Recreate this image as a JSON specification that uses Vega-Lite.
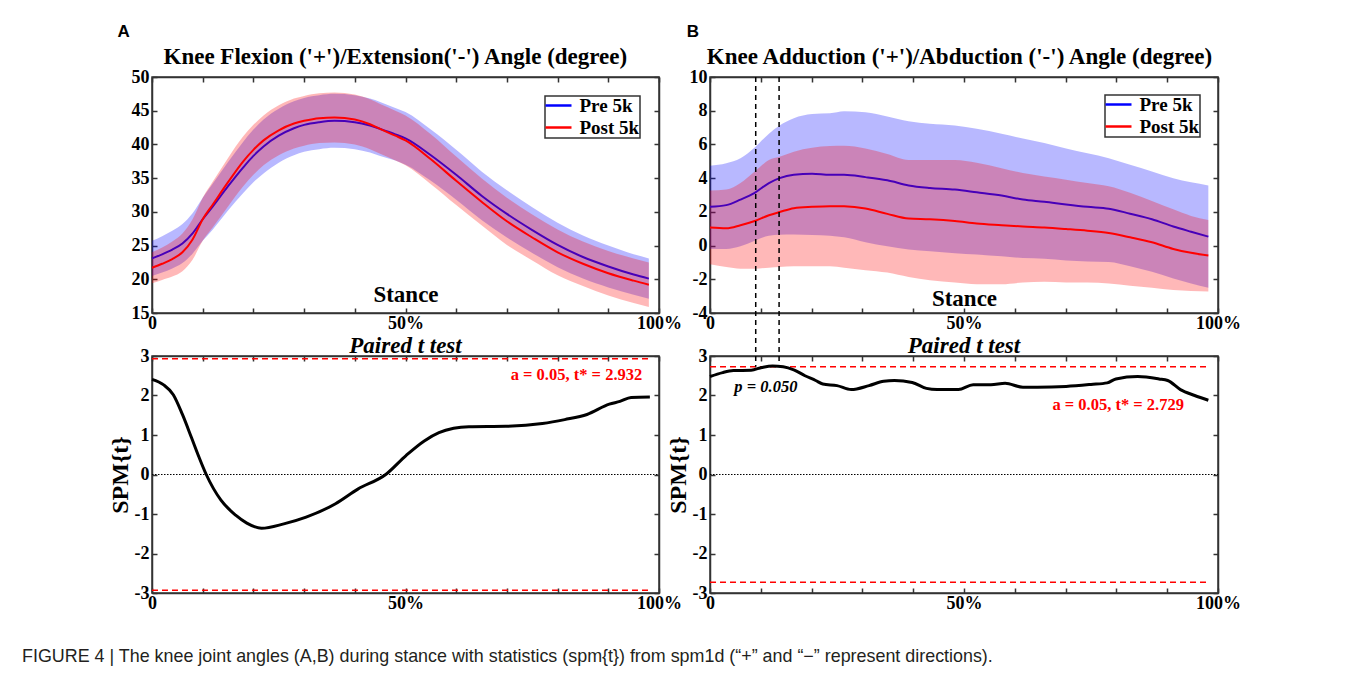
{
  "$schema": "https://vega.github.io/schema/vega-lite/v6.json",
  "background": "white",
  "padding": {"left": 22, "top": 22, "right": 5, "bottom": 5},
  "config": {
    "font": "Liberation Serif",
    "view": {"stroke": "#333333", "strokeWidth": 1.5},
    "axis": {
      "domainColor": "#333333", "domainWidth": 1.5,
      "tickColor": "#333333", "tickWidth": 1.5, "tickSize": -5,
      "labelPadding": 8, "labelFont": "Liberation Serif", "labelFontWeight": "bold",
      "labelFontSize": 18, "labelColor": "black",
      "titleFont": "Liberation Serif", "titleFontWeight": "bold", "titleColor": "black",
      "grid": false, "labelOverlap": false, "labelFlush": false, "minExtent": 0
    },
    "axisX": {"labelPadding": 6.5},
    "legend": {
      "labelFont": "Liberation Serif", "labelFontWeight": "bold", "labelFontSize": 19, "labelColor": "black",
      "strokeColor": "#333333", "strokeWidth": 1.5, "fillColor": "white",
      "padding": 0, "rowPadding": 2, "symbolStrokeWidth": 2.5,
      "symbolType": "M-2,0H2", "symbolSize": 169, "symbolOffset": 4, "labelOffset": 11.5
    }
  },
  "title": {
    "text": "FIGURE 4 | The knee joint angles (A,B) during stance with statistics (spm{t}) from spm1d (“+” and “−” represent directions).",
    "orient": "bottom", "anchor": "start", "frame": "group", "dx": -130, "offset": 35,
    "font": "Liberation Sans", "fontSize": 17.9, "fontWeight": "normal", "fontStyle": "normal",
    "color": "#231f20", "baseline": "top"
  },
  "columns": 2,
  "spacing": {"row": 43, "column": 51},
  "bounds": "flush",
  "resolve": {"scale": {"color": "independent"}, "legend": {"color": "independent"}},
  "datasets": {
    "angleA": [
      {"stance": 0, "group": "Pre 5k", "mean": 23.1, "lo": 20.5, "hi": 25.7},
      {"stance": 2, "group": "Pre 5k", "mean": 23.7, "lo": 21.0, "hi": 26.4},
      {"stance": 4, "group": "Pre 5k", "mean": 24.4, "lo": 21.6, "hi": 27.2},
      {"stance": 6, "group": "Pre 5k", "mean": 25.3, "lo": 22.4, "hi": 28.2},
      {"stance": 8, "group": "Pre 5k", "mean": 26.8, "lo": 23.8, "hi": 29.8},
      {"stance": 10, "group": "Pre 5k", "mean": 28.9, "lo": 25.7, "hi": 32.1},
      {"stance": 12, "group": "Pre 5k", "mean": 30.8, "lo": 27.4, "hi": 34.2},
      {"stance": 15, "group": "Pre 5k", "mean": 33.8, "lo": 30.2, "hi": 37.4},
      {"stance": 18, "group": "Pre 5k", "mean": 36.6, "lo": 32.8, "hi": 40.4},
      {"stance": 20, "group": "Pre 5k", "mean": 38.3, "lo": 34.4, "hi": 42.2},
      {"stance": 22, "group": "Pre 5k", "mean": 39.7, "lo": 35.7, "hi": 43.7},
      {"stance": 25, "group": "Pre 5k", "mean": 41.3, "lo": 37.3, "hi": 45.3},
      {"stance": 28, "group": "Pre 5k", "mean": 42.4, "lo": 38.4, "hi": 46.4},
      {"stance": 30, "group": "Pre 5k", "mean": 42.9, "lo": 38.9, "hi": 46.9},
      {"stance": 33, "group": "Pre 5k", "mean": 43.3, "lo": 39.3, "hi": 47.3},
      {"stance": 36, "group": "Pre 5k", "mean": 43.5, "lo": 39.5, "hi": 47.5},
      {"stance": 40, "group": "Pre 5k", "mean": 43.3, "lo": 39.3, "hi": 47.3},
      {"stance": 43, "group": "Pre 5k", "mean": 42.8, "lo": 38.8, "hi": 46.8},
      {"stance": 45, "group": "Pre 5k", "mean": 42.3, "lo": 38.3, "hi": 46.3},
      {"stance": 48, "group": "Pre 5k", "mean": 41.5, "lo": 37.6, "hi": 45.4},
      {"stance": 50, "group": "Pre 5k", "mean": 40.9, "lo": 37.0, "hi": 44.8},
      {"stance": 55, "group": "Pre 5k", "mean": 38.4, "lo": 34.6, "hi": 42.2},
      {"stance": 60, "group": "Pre 5k", "mean": 35.5, "lo": 31.8, "hi": 39.2},
      {"stance": 65, "group": "Pre 5k", "mean": 32.4, "lo": 28.8, "hi": 36.0},
      {"stance": 70, "group": "Pre 5k", "mean": 29.7, "lo": 26.2, "hi": 33.2},
      {"stance": 75, "group": "Pre 5k", "mean": 27.3, "lo": 23.9, "hi": 30.7},
      {"stance": 80, "group": "Pre 5k", "mean": 25.1, "lo": 21.8, "hi": 28.4},
      {"stance": 85, "group": "Pre 5k", "mean": 23.3, "lo": 20.1, "hi": 26.5},
      {"stance": 90, "group": "Pre 5k", "mean": 21.9, "lo": 18.8, "hi": 25.0},
      {"stance": 95, "group": "Pre 5k", "mean": 20.7, "lo": 17.7, "hi": 23.7},
      {"stance": 98, "group": "Pre 5k", "mean": 20.1, "lo": 17.1, "hi": 23.1},
      {"stance": 0, "group": "Post 5k", "mean": 21.7, "lo": 19.4, "hi": 24.0},
      {"stance": 2, "group": "Post 5k", "mean": 22.3, "lo": 19.9, "hi": 24.7},
      {"stance": 4, "group": "Post 5k", "mean": 23.0, "lo": 20.4, "hi": 25.6},
      {"stance": 6, "group": "Post 5k", "mean": 24.0, "lo": 21.2, "hi": 26.8},
      {"stance": 8, "group": "Post 5k", "mean": 25.9, "lo": 22.9, "hi": 28.9},
      {"stance": 10, "group": "Post 5k", "mean": 28.9, "lo": 25.7, "hi": 32.1},
      {"stance": 12, "group": "Post 5k", "mean": 31.1, "lo": 27.7, "hi": 34.5},
      {"stance": 15, "group": "Post 5k", "mean": 34.4, "lo": 30.8, "hi": 38.0},
      {"stance": 18, "group": "Post 5k", "mean": 37.5, "lo": 33.8, "hi": 41.2},
      {"stance": 20, "group": "Post 5k", "mean": 39.2, "lo": 35.5, "hi": 42.9},
      {"stance": 22, "group": "Post 5k", "mean": 40.6, "lo": 36.9, "hi": 44.3},
      {"stance": 25, "group": "Post 5k", "mean": 42.1, "lo": 38.4, "hi": 45.8},
      {"stance": 28, "group": "Post 5k", "mean": 43.1, "lo": 39.4, "hi": 46.8},
      {"stance": 30, "group": "Post 5k", "mean": 43.5, "lo": 39.8, "hi": 47.2},
      {"stance": 33, "group": "Post 5k", "mean": 43.9, "lo": 40.2, "hi": 47.6},
      {"stance": 36, "group": "Post 5k", "mean": 44.0, "lo": 40.3, "hi": 47.7},
      {"stance": 40, "group": "Post 5k", "mean": 43.7, "lo": 40.0, "hi": 47.4},
      {"stance": 43, "group": "Post 5k", "mean": 43.0, "lo": 39.3, "hi": 46.7},
      {"stance": 45, "group": "Post 5k", "mean": 42.3, "lo": 38.6, "hi": 46.0},
      {"stance": 48, "group": "Post 5k", "mean": 41.3, "lo": 37.6, "hi": 45.0},
      {"stance": 50, "group": "Post 5k", "mean": 40.6, "lo": 36.9, "hi": 44.3},
      {"stance": 55, "group": "Post 5k", "mean": 37.8, "lo": 34.1, "hi": 41.5},
      {"stance": 60, "group": "Post 5k", "mean": 34.6, "lo": 31.0, "hi": 38.2},
      {"stance": 65, "group": "Post 5k", "mean": 31.5, "lo": 28.0, "hi": 35.0},
      {"stance": 70, "group": "Post 5k", "mean": 28.6, "lo": 25.1, "hi": 32.1},
      {"stance": 75, "group": "Post 5k", "mean": 26.2, "lo": 22.8, "hi": 29.6},
      {"stance": 80, "group": "Post 5k", "mean": 24.0, "lo": 20.6, "hi": 27.4},
      {"stance": 85, "group": "Post 5k", "mean": 22.3, "lo": 19.0, "hi": 25.6},
      {"stance": 90, "group": "Post 5k", "mean": 20.9, "lo": 17.6, "hi": 24.2},
      {"stance": 95, "group": "Post 5k", "mean": 19.8, "lo": 16.5, "hi": 23.1},
      {"stance": 98, "group": "Post 5k", "mean": 19.2, "lo": 15.9, "hi": 22.5}
    ],
    "angleB": [
      {"stance": 0, "group": "Pre 5k", "mean": 2.30, "lo": -0.20, "hi": 4.73},
      {"stance": 3.2, "group": "Pre 5k", "mean": 2.40, "lo": -0.20, "hi": 4.88},
      {"stance": 6.0, "group": "Pre 5k", "mean": 2.73, "lo": -0.04, "hi": 5.18},
      {"stance": 8.8, "group": "Pre 5k", "mean": 3.13, "lo": 0.29, "hi": 5.82},
      {"stance": 11.6, "group": "Pre 5k", "mean": 3.71, "lo": 0.59, "hi": 6.64},
      {"stance": 13.7, "group": "Pre 5k", "mean": 4.00, "lo": 0.64, "hi": 7.13},
      {"stance": 16.5, "group": "Pre 5k", "mean": 4.20, "lo": 0.66, "hi": 7.56},
      {"stance": 20.1, "group": "Pre 5k", "mean": 4.26, "lo": 0.62, "hi": 7.81},
      {"stance": 23.6, "group": "Pre 5k", "mean": 4.20, "lo": 0.59, "hi": 7.85},
      {"stance": 26.4, "group": "Pre 5k", "mean": 4.20, "lo": 0.49, "hi": 7.97},
      {"stance": 30.6, "group": "Pre 5k", "mean": 4.06, "lo": 0.20, "hi": 7.91},
      {"stance": 34.9, "group": "Pre 5k", "mean": 3.87, "lo": -0.04, "hi": 7.66},
      {"stance": 39.1, "group": "Pre 5k", "mean": 3.57, "lo": -0.23, "hi": 7.38},
      {"stance": 43.3, "group": "Pre 5k", "mean": 3.42, "lo": -0.33, "hi": 7.23},
      {"stance": 48.2, "group": "Pre 5k", "mean": 3.32, "lo": -0.45, "hi": 7.13},
      {"stance": 52.5, "group": "Pre 5k", "mean": 3.16, "lo": -0.53, "hi": 6.93},
      {"stance": 57.4, "group": "Pre 5k", "mean": 2.97, "lo": -0.64, "hi": 6.64},
      {"stance": 61.6, "group": "Pre 5k", "mean": 2.73, "lo": -0.74, "hi": 6.35},
      {"stance": 65.8, "group": "Pre 5k", "mean": 2.60, "lo": -0.78, "hi": 6.09},
      {"stance": 70.1, "group": "Pre 5k", "mean": 2.44, "lo": -0.88, "hi": 5.76},
      {"stance": 74.3, "group": "Pre 5k", "mean": 2.30, "lo": -0.94, "hi": 5.47},
      {"stance": 78.5, "group": "Pre 5k", "mean": 2.19, "lo": -0.98, "hi": 5.18},
      {"stance": 82.7, "group": "Pre 5k", "mean": 1.89, "lo": -1.23, "hi": 4.79},
      {"stance": 87.0, "group": "Pre 5k", "mean": 1.56, "lo": -1.56, "hi": 4.39},
      {"stance": 91.2, "group": "Pre 5k", "mean": 1.13, "lo": -1.95, "hi": 4.00},
      {"stance": 94.7, "group": "Pre 5k", "mean": 0.82, "lo": -2.25, "hi": 3.75},
      {"stance": 98.1, "group": "Pre 5k", "mean": 0.53, "lo": -2.50, "hi": 3.57},
      {"stance": 0, "group": "Post 5k", "mean": 1.07, "lo": -1.11, "hi": 3.26},
      {"stance": 3.2, "group": "Post 5k", "mean": 1.03, "lo": -1.27, "hi": 3.32},
      {"stance": 6.0, "group": "Post 5k", "mean": 1.21, "lo": -1.37, "hi": 3.71},
      {"stance": 8.8, "group": "Post 5k", "mean": 1.46, "lo": -1.37, "hi": 4.39},
      {"stance": 11.6, "group": "Post 5k", "mean": 1.80, "lo": -1.31, "hi": 5.08},
      {"stance": 13.7, "group": "Post 5k", "mean": 1.99, "lo": -1.27, "hi": 5.27},
      {"stance": 16.5, "group": "Post 5k", "mean": 2.22, "lo": -1.23, "hi": 5.57},
      {"stance": 20.1, "group": "Post 5k", "mean": 2.30, "lo": -1.23, "hi": 5.80},
      {"stance": 23.6, "group": "Post 5k", "mean": 2.34, "lo": -1.23, "hi": 5.90},
      {"stance": 26.4, "group": "Post 5k", "mean": 2.33, "lo": -1.31, "hi": 5.92},
      {"stance": 30.6, "group": "Post 5k", "mean": 2.20, "lo": -1.46, "hi": 5.76},
      {"stance": 34.9, "group": "Post 5k", "mean": 1.88, "lo": -1.60, "hi": 5.43},
      {"stance": 39.1, "group": "Post 5k", "mean": 1.60, "lo": -1.86, "hi": 5.08},
      {"stance": 43.3, "group": "Post 5k", "mean": 1.56, "lo": -2.05, "hi": 5.08},
      {"stance": 48.2, "group": "Post 5k", "mean": 1.46, "lo": -2.19, "hi": 5.08},
      {"stance": 52.5, "group": "Post 5k", "mean": 1.31, "lo": -2.29, "hi": 4.92},
      {"stance": 57.4, "group": "Post 5k", "mean": 1.21, "lo": -2.29, "hi": 4.59},
      {"stance": 61.6, "group": "Post 5k", "mean": 1.13, "lo": -2.19, "hi": 4.30},
      {"stance": 65.8, "group": "Post 5k", "mean": 1.07, "lo": -2.15, "hi": 4.10},
      {"stance": 70.1, "group": "Post 5k", "mean": 0.98, "lo": -2.19, "hi": 3.91},
      {"stance": 74.3, "group": "Post 5k", "mean": 0.88, "lo": -2.19, "hi": 3.71},
      {"stance": 78.5, "group": "Post 5k", "mean": 0.74, "lo": -2.25, "hi": 3.52},
      {"stance": 82.7, "group": "Post 5k", "mean": 0.49, "lo": -2.38, "hi": 3.13},
      {"stance": 87.0, "group": "Post 5k", "mean": 0.20, "lo": -2.50, "hi": 2.64},
      {"stance": 91.2, "group": "Post 5k", "mean": -0.20, "lo": -2.64, "hi": 2.15},
      {"stance": 94.7, "group": "Post 5k", "mean": -0.43, "lo": -2.70, "hi": 1.76},
      {"stance": 98.1, "group": "Post 5k", "mean": -0.59, "lo": -2.73, "hi": 1.52}
    ],
    "spmA": [
      {"stance": 0, "t": 2.41}, {"stance": 2.3, "t": 2.27}, {"stance": 4.2, "t": 2.02},
      {"stance": 6.0, "t": 1.52}, {"stance": 7.8, "t": 0.93}, {"stance": 9.3, "t": 0.43},
      {"stance": 10.7, "t": 0.0}, {"stance": 13.6, "t": -0.65}, {"stance": 16.5, "t": -1.03},
      {"stance": 18.7, "t": -1.23}, {"stance": 21.6, "t": -1.36}, {"stance": 26.0, "t": -1.25},
      {"stance": 30.4, "t": -1.08}, {"stance": 36.2, "t": -0.74}, {"stance": 40.6, "t": -0.37},
      {"stance": 46.1, "t": 0.0}, {"stance": 50.1, "t": 0.48}, {"stance": 53.7, "t": 0.85},
      {"stance": 56.6, "t": 1.06}, {"stance": 59.5, "t": 1.17}, {"stance": 62.5, "t": 1.21},
      {"stance": 69.8, "t": 1.22}, {"stance": 77.0, "t": 1.29}, {"stance": 81.4, "t": 1.39},
      {"stance": 85.8, "t": 1.52}, {"stance": 90.2, "t": 1.78}, {"stance": 92.3, "t": 1.85},
      {"stance": 94.5, "t": 1.95}, {"stance": 98.2, "t": 1.96}
    ],
    "spmB": [
      {"stance": 0, "t": 2.48}, {"stance": 2.5, "t": 2.58}, {"stance": 4.6, "t": 2.63},
      {"stance": 8.1, "t": 2.64}, {"stance": 10.2, "t": 2.71}, {"stance": 12.3, "t": 2.75},
      {"stance": 14.4, "t": 2.73}, {"stance": 16.5, "t": 2.65}, {"stance": 18.7, "t": 2.50},
      {"stance": 20.8, "t": 2.38}, {"stance": 22.2, "t": 2.29}, {"stance": 25.0, "t": 2.25},
      {"stance": 27.8, "t": 2.15}, {"stance": 31.3, "t": 2.25}, {"stance": 34.2, "t": 2.36},
      {"stance": 36.3, "t": 2.38}, {"stance": 39.8, "t": 2.33}, {"stance": 42.6, "t": 2.18},
      {"stance": 44.7, "t": 2.15}, {"stance": 48.9, "t": 2.15}, {"stance": 51.8, "t": 2.27},
      {"stance": 55.3, "t": 2.27}, {"stance": 58.1, "t": 2.31}, {"stance": 61.6, "t": 2.21},
      {"stance": 64.4, "t": 2.21}, {"stance": 70.1, "t": 2.23}, {"stance": 75.0, "t": 2.28},
      {"stance": 78.2, "t": 2.32}, {"stance": 79.9, "t": 2.42}, {"stance": 84.2, "t": 2.48},
      {"stance": 88.4, "t": 2.42}, {"stance": 90.1, "t": 2.38}, {"stance": 92.6, "t": 2.15},
      {"stance": 95.4, "t": 2.00}, {"stance": 98.1, "t": 1.88}
    ],
    "thrA": [{"thr": 2.932}, {"thr": -2.932}],
    "thrB": [{"thr": 2.729}, {"thr": -2.729}],
    "sigB": [{"bound": 9.0}, {"bound": 13.6}]
  },
  "concat": [
    {
      "width": 507, "height": 236,
      "data": {"name": "angleA"},
      "resolve": {"axis": {"x": "independent", "y": "independent"}},
      "layer": [
        {
          "transform": [{"filter": "datum.group === 'Pre 5k'"}],
          "mark": {"type": "area", "color": "#0000ff", "opacity": 0.28, "interpolate": "monotone"},
          "encoding": {
            "x": {"field": "stance", "type": "quantitative", "scale": {"domain": [0, 100], "nice": false, "zero": false},
                  "axis": {"orient": "bottom", "values": [0,10,20,30,40,50,60,70,80,90,100],
                           "labelExpr": "datum.value == 0 ? '0' : (datum.value == 50 || datum.value == 100 ? datum.value + '%' : '')",
                           "title": "Stance", "titleY": -12, "titleBaseline": "alphabetic", "titleFontSize": 23}},
            "y": {"field": "lo", "type": "quantitative", "scale": {"domain": [15, 50], "nice": false, "zero": false},
                  "axis": {"orient": "left", "values": [15,20,25,30,35,40,45,50], "title": null}},
            "y2": {"field": "hi"}
          }
        },
        {
          "transform": [{"filter": "datum.group === 'Pre 5k'"}],
          "mark": {"type": "line", "strokeWidth": 2, "interpolate": "monotone"},
          "encoding": {
            "x": {"field": "stance", "type": "quantitative", "axis": {"orient": "top", "values": [0,10,20,30,40,50,60,70,80,90,100], "labels": false, "title": null}},
            "y": {"field": "mean", "type": "quantitative", "axis": {"orient": "right", "values": [15,20,25,30,35,40,45,50], "labels": false, "title": null}},
            "color": {"field": "group", "type": "nominal", "scale": {"domain": ["Pre 5k", "Post 5k"], "range": ["#0000ff", "#ff0000"]},
                      "legend": {"title": null, "orient": "top-right", "offset": 19}}
          }
        },
        {
          "transform": [{"filter": "datum.group === 'Post 5k'"}],
          "mark": {"type": "area", "color": "#ff0000", "opacity": 0.28, "interpolate": "monotone"},
          "encoding": {
            "x": {"field": "stance", "type": "quantitative", "axis": null},
            "y": {"field": "lo", "type": "quantitative", "axis": null},
            "y2": {"field": "hi"}
          }
        },
        {
          "transform": [{"filter": "datum.group === 'Post 5k'"}],
          "mark": {"type": "line", "strokeWidth": 2, "interpolate": "monotone"},
          "encoding": {
            "x": {"field": "stance", "type": "quantitative", "axis": null},
            "y": {"field": "mean", "type": "quantitative", "axis": null},
            "color": {"field": "group", "type": "nominal"}
          }
        },
        {
          "data": {"values": [{"label": "Knee Flexion ('+')/Extension('-') Angle (degree)"}]},
          "mark": {"type": "text", "fontSize": 23, "fontWeight": "bold", "font": "Liberation Serif", "align": "center", "baseline": "alphabetic", "color": "black"},
          "encoding": {
            "x": {"datum": 48, "type": "quantitative", "axis": null},
            "y": {"datum": 51.93, "type": "quantitative", "axis": null},
            "text": {"field": "label"}
          }
        },
        {
          "data": {"values": [{"panel": "A"}]},
          "mark": {"type": "text", "fontSize": 17, "fontWeight": "bold", "font": "Liberation Sans", "align": "center", "baseline": "middle", "color": "black"},
          "encoding": {
            "x": {"datum": -5.6, "type": "quantitative", "axis": null},
            "y": {"datum": 56.67, "type": "quantitative", "axis": null},
            "text": {"field": "panel"}
          }
        }
      ]
    },
    {
      "width": 508, "height": 236,
      "data": {"name": "angleB"},
      "resolve": {"axis": {"x": "independent", "y": "independent"}},
      "layer": [
        {
          "transform": [{"filter": "datum.group === 'Pre 5k'"}],
          "mark": {"type": "area", "color": "#0000ff", "opacity": 0.28, "interpolate": "monotone"},
          "encoding": {
            "x": {"field": "stance", "type": "quantitative", "scale": {"domain": [0, 100], "nice": false, "zero": false},
                  "axis": {"orient": "bottom", "values": [0,10,20,30,40,50,60,70,80,90,100],
                           "labelExpr": "datum.value == 0 ? '0' : (datum.value == 50 || datum.value == 100 ? datum.value + '%' : '')",
                           "title": "Stance", "titleY": -8, "titleBaseline": "alphabetic", "titleFontSize": 23}},
            "y": {"field": "lo", "type": "quantitative", "scale": {"domain": [-4, 10], "nice": false, "zero": false},
                  "axis": {"orient": "left", "values": [-4,-2,0,2,4,6,8,10], "labelExpr": "datum.value + ''", "title": null}},
            "y2": {"field": "hi"}
          }
        },
        {
          "transform": [{"filter": "datum.group === 'Pre 5k'"}],
          "mark": {"type": "line", "strokeWidth": 2, "interpolate": "monotone"},
          "encoding": {
            "x": {"field": "stance", "type": "quantitative", "axis": {"orient": "top", "values": [0,10,20,30,40,50,60,70,80,90,100], "labels": false, "title": null}},
            "y": {"field": "mean", "type": "quantitative", "axis": {"orient": "right", "values": [-4,-2,0,2,4,6,8,10], "labels": false, "title": null}},
            "color": {"field": "group", "type": "nominal", "scale": {"domain": ["Pre 5k", "Post 5k"], "range": ["#0000ff", "#ff0000"]},
                      "legend": {"title": null, "orient": "top-right", "offset": 18}}
          }
        },
        {
          "transform": [{"filter": "datum.group === 'Post 5k'"}],
          "mark": {"type": "area", "color": "#ff0000", "opacity": 0.28, "interpolate": "monotone"},
          "encoding": {
            "x": {"field": "stance", "type": "quantitative", "axis": null},
            "y": {"field": "lo", "type": "quantitative", "axis": null},
            "y2": {"field": "hi"}
          }
        },
        {
          "transform": [{"filter": "datum.group === 'Post 5k'"}],
          "mark": {"type": "line", "strokeWidth": 2, "interpolate": "monotone"},
          "encoding": {
            "x": {"field": "stance", "type": "quantitative", "axis": null},
            "y": {"field": "mean", "type": "quantitative", "axis": null},
            "color": {"field": "group", "type": "nominal"}
          }
        },
        {
          "data": {"name": "sigB"},
          "mark": {"type": "rule", "color": "black", "strokeWidth": 1.5, "strokeDash": [5, 4]},
          "encoding": {
            "x": {"field": "bound", "type": "quantitative", "axis": null},
            "y": {"datum": 10, "type": "quantitative", "axis": null},
            "y2": {"datum": -6.54}
          }
        },
        {
          "data": {"values": [{"label": "Knee Adduction ('+')/Abduction ('-') Angle (degree)"}]},
          "mark": {"type": "text", "fontSize": 23, "fontWeight": "bold", "font": "Liberation Serif", "align": "center", "baseline": "alphabetic", "color": "black"},
          "encoding": {
            "x": {"datum": 49.1, "type": "quantitative", "axis": null},
            "y": {"datum": 10.77, "type": "quantitative", "axis": null},
            "text": {"field": "label"}
          }
        },
        {
          "data": {"values": [{"panel": "B"}]},
          "mark": {"type": "text", "fontSize": 17, "fontWeight": "bold", "font": "Liberation Sans", "align": "center", "baseline": "middle", "color": "black"},
          "encoding": {
            "x": {"datum": -3.35, "type": "quantitative", "axis": null},
            "y": {"datum": 12.67, "type": "quantitative", "axis": null},
            "text": {"field": "panel"}
          }
        }
      ]
    },
    {
      "width": 507, "height": 237,
      "title": {"text": "Paired t test", "fontSize": 23, "fontWeight": "bold", "fontStyle": "italic", "font": "Liberation Serif", "offset": 4, "dy": 32.5, "baseline": "alphabetic", "color": "black"},
      "data": {"name": "spmA"},
      "resolve": {"axis": {"x": "independent", "y": "independent"}},
      "layer": [
        {
          "data": {"values": [{}]},
          "mark": {"type": "rule", "color": "black", "strokeWidth": 1.2, "strokeDash": [1.5, 1.5]},
          "encoding": {
            "x": {"datum": 0, "type": "quantitative", "scale": {"domain": [0, 100], "nice": false, "zero": false},
                  "axis": {"orient": "top", "values": [0,10,20,30,40,50,60,70,80,90,100], "labels": false, "title": null}},
            "x2": {"datum": 100},
            "y": {"datum": 0, "type": "quantitative", "scale": {"domain": [-3, 3], "nice": false, "zero": false},
                  "axis": {"orient": "right", "values": [-3,-2,-1,0,1,2,3], "labels": false, "title": null}}
          }
        },
        {
          "data": {"name": "thrA"},
          "mark": {"type": "rule", "color": "#ff0000", "strokeWidth": 1.5, "strokeDash": [6, 4]},
          "encoding": {
            "x": {"datum": 0, "type": "quantitative", "axis": null},
            "x2": {"datum": 98},
            "y": {"field": "thr", "type": "quantitative", "axis": null}
          }
        },
        {
          "mark": {"type": "line", "color": "black", "strokeWidth": 3, "interpolate": "monotone"},
          "encoding": {
            "x": {"field": "stance", "type": "quantitative",
                  "axis": {"orient": "bottom", "values": [0,10,20,30,40,50,60,70,80,90,100],
                           "labelExpr": "datum.value == 0 ? '0' : (datum.value == 50 || datum.value == 100 ? datum.value + '%' : '')",
                           "title": null}},
            "y": {"field": "t", "type": "quantitative",
                  "axis": {"orient": "left", "values": [-3,-2,-1,0,1,2,3], "labelExpr": "datum.value + ''",
                           "title": "SPM{t}", "titleFontSize": 24, "titlePadding": 2}}
          }
        },
        {
          "data": {"values": [{"label": "a = 0.05, t* = 2.932"}]},
          "mark": {"type": "text", "fontSize": 16.5, "fontWeight": "bold", "font": "Liberation Serif", "align": "right", "baseline": "middle", "color": "#ff0000"},
          "encoding": {
            "x": {"datum": 96.7, "type": "quantitative", "axis": null},
            "y": {"datum": 2.53, "type": "quantitative", "axis": null},
            "text": {"field": "label"}
          }
        }
      ]
    },
    {
      "width": 508, "height": 237,
      "title": {"text": "Paired t test", "fontSize": 23, "fontWeight": "bold", "fontStyle": "italic", "font": "Liberation Serif", "offset": 4, "dy": 32.5, "baseline": "alphabetic", "color": "black"},
      "data": {"name": "spmB"},
      "resolve": {"axis": {"x": "independent", "y": "independent"}},
      "layer": [
        {
          "data": {"values": [{}]},
          "mark": {"type": "rule", "color": "black", "strokeWidth": 1.2, "strokeDash": [1.5, 1.5]},
          "encoding": {
            "x": {"datum": 0, "type": "quantitative", "scale": {"domain": [0, 100], "nice": false, "zero": false},
                  "axis": {"orient": "top", "values": [0,10,20,30,40,50,60,70,80,90,100], "labels": false, "title": null}},
            "x2": {"datum": 100},
            "y": {"datum": 0, "type": "quantitative", "scale": {"domain": [-3, 3], "nice": false, "zero": false},
                  "axis": {"orient": "right", "values": [-3,-2,-1,0,1,2,3], "labels": false, "title": null}}
          }
        },
        {
          "data": {"name": "thrB"},
          "mark": {"type": "rule", "color": "#ff0000", "strokeWidth": 1.5, "strokeDash": [6, 4]},
          "encoding": {
            "x": {"datum": 0, "type": "quantitative", "axis": null},
            "x2": {"datum": 98},
            "y": {"field": "thr", "type": "quantitative", "axis": null}
          }
        },
        {
          "data": {"name": "sigB"},
          "mark": {"type": "rule", "color": "black", "strokeWidth": 1.5, "strokeDash": [5, 4]},
          "encoding": {
            "x": {"field": "bound", "type": "quantitative", "axis": null},
            "y": {"datum": 3, "type": "quantitative", "axis": null},
            "y2": {"datum": 2.73}
          }
        },
        {
          "mark": {"type": "line", "color": "black", "strokeWidth": 3, "interpolate": "monotone"},
          "encoding": {
            "x": {"field": "stance", "type": "quantitative",
                  "axis": {"orient": "bottom", "values": [0,10,20,30,40,50,60,70,80,90,100],
                           "labelExpr": "datum.value == 0 ? '0' : (datum.value == 50 || datum.value == 100 ? datum.value + '%' : '')",
                           "title": null}},
            "y": {"field": "t", "type": "quantitative",
                  "axis": {"orient": "left", "values": [-3,-2,-1,0,1,2,3], "labelExpr": "datum.value + ''",
                           "title": "SPM{t}", "titleFontSize": 24, "titlePadding": 2}}
          }
        },
        {
          "data": {"values": [{"label": "p = 0.050"}]},
          "mark": {"type": "text", "fontSize": 16.5, "fontWeight": "bold", "fontStyle": "italic", "font": "Liberation Serif", "align": "center", "baseline": "middle", "color": "black"},
          "encoding": {
            "x": {"datum": 11, "type": "quantitative", "axis": null},
            "y": {"datum": 2.22, "type": "quantitative", "axis": null},
            "text": {"field": "label"}
          }
        },
        {
          "data": {"values": [{"label": "a = 0.05, t* = 2.729"}]},
          "mark": {"type": "text", "fontSize": 16.5, "fontWeight": "bold", "font": "Liberation Serif", "align": "right", "baseline": "middle", "color": "#ff0000"},
          "encoding": {
            "x": {"datum": 93.3, "type": "quantitative", "axis": null},
            "y": {"datum": 1.76, "type": "quantitative", "axis": null},
            "text": {"field": "label"}
          }
        }
      ]
    }
  ]
}
